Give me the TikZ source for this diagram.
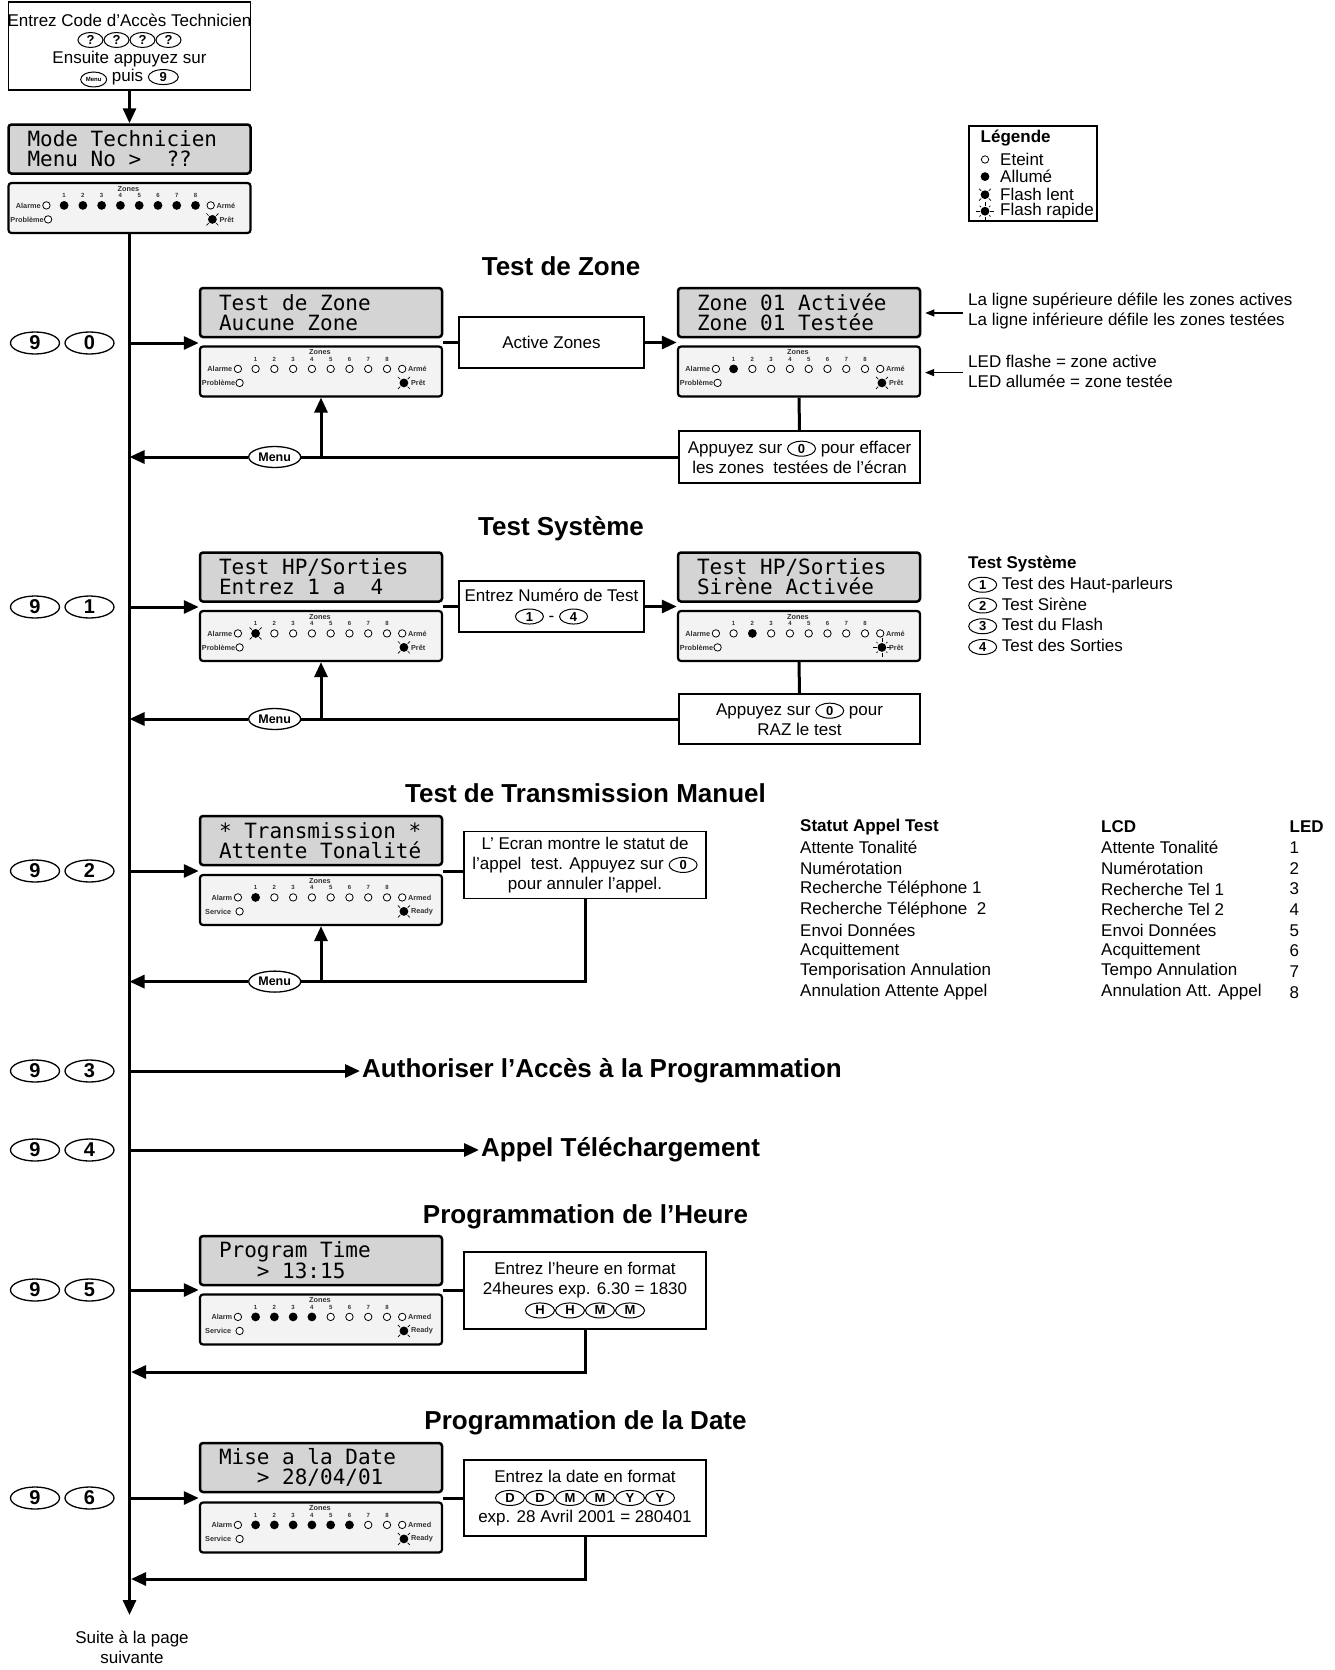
\documentclass[tikz,border=0pt]{standalone}
\usepackage{fontspec}
\setmainfont{Liberation Sans}
\newfontfamily\lcdfam{DejaVu Sans Mono}
\usetikzlibrary{arrows.meta,shapes.geometric}

\definecolor{lcdgris}{RGB}{212,212,212}
\definecolor{ledgris}{RGB}{243,243,243}

\newcommand{\corps}{\fontsize{17}{20}\selectfont}
\newcommand{\titre}{\fontsize{26}{30}\selectfont\bfseries}
\newcommand{\petit}{\fontsize{7.3}{8}\selectfont\bfseries}
\newcommand{\lcdfont}{\lcdfam\fontsize{21}{20}\selectfont}
% espaces de la largeur d'un caractere
\newcommand{\lcdspace}{\spaceskip=\fontcharwd\font`0\relax\xspaceskip=\spaceskip}

% touche dans le texte
\newcommand{\kb}[2][28pt]{\tikz[baseline=(kb.base)]\node[shape=ellipse,draw,fill=white,line width=1pt,inner sep=0pt,minimum width=#1,minimum height=15pt,font=\fontsize{13}{13}\selectfont\bfseries,text=black,anchor=center] (kb) {#2};}

% voyants: o eteint, n allume, s flash lent, f flash rapide
\newcommand{\ledo}[1]{\draw[line width=0.8pt,fill=white] (#1) circle (3.7pt);}
\newcommand{\ledn}[1]{\fill (#1) circle (4.4pt);}
\newcommand{\leds}[1]{\fill (#1) circle (4.4pt);
    \foreach \a in {45,135,225,315} \draw[line width=0.7pt] (#1) ++(\a:5.4pt) -- ++(\a:3pt);}
\newcommand{\ledf}[1]{\fill (#1) circle (4.4pt);
    \foreach \a in {0,90,180,270} \draw[line width=0.7pt] (#1) ++(\a:5.4pt) -- ++(\a:4pt);
    \foreach \a in {45,135,225,315} \draw[line width=0.7pt] (#1) ++(\a:5.9pt) -- ++(\a:1.8pt);}

\newcommand{\setfr}{\def\lA{Alarme}\def\lB{Armé}\def\lC{Problème}\def\lD{Prêt}\def\lCx{37}}
\newcommand{\seten}{\def\lA{Alarm}\def\lB{Armed}\def\lC{Service}\def\lD{Ready}\def\lCx{33}}

% clavier a voyants: nom, centre, zones, voyant pret
\newcommand{\ledpanel}[4]{%
    \node[ledbox] (#1) at (#2) {};
    \begin{scope}[shift={(#1.north west)}]
        \node[ledtxt] (#1-zones) at (121,6.7) {Zones};
        \foreach \s [count=\i] in {#3} {
            \node[ledtxt,font=\fontsize{6}{6}\selectfont\bfseries] (#1-n\i) at ({56.7+18.77*(\i-1)},13.8) {\i};
            \csname led\s\endcsname{{56.7+18.77*(\i-1)},23.5}
        }
        \node[ledtxt,anchor=east] (#1-a) at (34,23.5) {\lA};
        \ledo{39,23.5}
        \ledo{203.3,23.5}
        \node[ledtxt,anchor=west] (#1-b) at (208.5,23.5) {\lB};
        \node[ledtxt,anchor=east] (#1-c) at (\lCx,37.5) {\lC};
        \ledo{40.7,37.5}
        \csname led#4\endcsname{205,37.5}
        \node[ledtxt,anchor=west] (#1-d) at (211.5,37.5) {\lD};
    \end{scope}}

\begin{document}
\begin{tikzpicture}[x=1pt,y=-1pt,
    lcd/.style={draw,line width=2.5pt,rounded corners=3pt,fill=lcdgris,text width=204pt,inner xsep=19pt,minimum height=49pt,align=left,font=\lcdfont,execute at begin node=\lcdspace},
    ledbox/.style={draw,line width=2.2pt,rounded corners=3pt,fill=ledgris,minimum width=242pt,minimum height=50pt,inner sep=0pt},
    ledtxt/.style={font=\petit,inner sep=0.5pt,text=black!80},
    boite/.style={draw,line width=1.2pt,fill=white,align=center,font=\corps,inner sep=2pt},
    txt/.style={font=\corps,anchor=west,inner sep=1pt},
    titre/.style={font=\titre,inner sep=2pt},
    bigkey/.style={shape=ellipse,draw,line width=1.3pt,minimum width=49pt,minimum height=22pt,inner sep=0pt,font=\fontsize{20}{20}\selectfont\bfseries},
    menukey/.style={shape=ellipse,draw,fill=white,line width=1.3pt,minimum width=52pt,minimum height=21pt,inner sep=0pt,font=\fontsize{12.5}{12.5}\selectfont\bfseries},
    trait/.style={line width=3pt},
    arr/.style={line width=3pt,-{Triangle[length=15pt,width=13pt]}},
    fleche/.style={line width=1.2pt,-{Triangle[length=9pt,width=7pt]}}]
    \useasboundingbox (0,0) rectangle (1334,1670);
    \setfr

    % acces au mode technicien
    \node[boite,minimum width=242pt,minimum height=88pt] (depart) at (129.5,46) {};
    \node[font=\fontsize{17}{18.5}\selectfont,align=center,inner sep=0pt] (departtxt) at (129.5,50.5) {Entrez Code d’Accès Technicien\\\kb[25pt]{?}\kb[25pt]{?}\kb[25pt]{?}\kb[25pt]{?}\\Ensuite appuyez sur\\\kb[26pt]{\fontsize{6}{6}\selectfont Menu} puis \kb[30pt]{9}};
    \node[lcd] (lcdM) at (129.5,149) {Mode Technicien\\Menu No >~~??};
    \ledpanel{ledM}{129.5,208}{n,n,n,n,n,n,n,n}{s}
    \draw[arr] (depart.south) -- (lcdM.north);

    % legende
    \node[boite,minimum width=128pt,minimum height=95pt] (legende) at (1033,173.5) {};
    \node[txt] (leg0) at (979.5,138) {\bfseries Légende};
    \ledo{985,159.5}
    \node[txt] (leg1) at (999,159.5) {Eteint};
    \ledn{985,176.6}
    \node[txt] (leg2) at (999,176.6) {Allumé};
    \leds{985,194.7}
    \node[txt] (leg3) at (999,194.7) {Flash lent};
    \ledf{985,211.2}
    \node[txt] (leg4) at (999,211.2) {Flash rapide};

    % ligne principale et touches
    \coordinate (suite) at (129.5,1615);
    \draw[arr] (ledM.south) -- (suite);
    \node[font=\corps,align=center,inner sep=0pt] (suitetxt) at (132,1647) {Suite à la page\\suivante};
    \foreach \d/\y in {0/343,1/607,2/871,3/1071,4/1150,5/1290,6/1498} {
        \node[bigkey] (neuf\d) at (35,\y) {9};
        \node[bigkey] (key\d) at (89.5,\y) {\d};
    }

    % 9 0 : test de zone
    \node[titre] (t0) at (561,266) {Test de Zone};
    \node[lcd] (lcdZ) at (321,312.5) {Test de Zone\\Aucune Zone};
    \ledpanel{ledZ}{321,371.5}{o,o,o,o,o,o,o,o}{s}
    \node[boite,minimum width=185pt,minimum height=51pt] (actz) at (551.5,342.5) {Active Zones};
    \node[lcd] (lcdZb) at (799,312.5) {Zone 01 Activée\\Zone 01 Testée};
    \ledpanel{ledZb}{799,371.5}{n,o,o,o,o,o,o,o}{s}
    \node[boite,minimum width=241pt,minimum height=52pt] (effZ) at (799.5,457) {Appuyez sur \kb{0} pour effacer\\les zones~ testées de l’écran};
    \node[menukey] (menu0) at (274.7,457) {Menu};
    \draw[arr] (ledM.south |- key0) -- (lcdZ.west |- key0);
    \draw[trait] (lcdZ.east |- actz) -- (actz.west);
    \draw[arr] (actz.east) -- (lcdZb.west |- actz);
    \draw[trait] (ledZb.south) -- (effZ.north);
    \draw[trait] (effZ.west) -- (menu0.east);
    \draw[arr] (menu0.west) -- (ledM.south |- menu0);
    \draw[arr] (ledZ.south |- menu0) -- (ledZ.south);
    \node[txt] (nZ1) at (967,301) {La ligne supérieure défile les zones actives};
    \node[txt] (nZ2) at (967,321.5) {La ligne inférieure défile les zones testées};
    \node[txt] (nZ3) at (967,361) {LED flashe = zone active};
    \node[txt] (nZ4) at (967,381) {LED allumée = zone testée};
    \coordinate (fZ1) at (963,313);
    \coordinate (fZ2) at (963,372.6);
    \draw[fleche,shorten >=4pt] (fZ1) -- (fZ1 -| lcdZb.east);
    \draw[fleche,shorten >=4pt] (fZ2) -- (fZ2 -| ledZb.east);

    % 9 1 : test systeme
    \node[titre] (t1) at (561,529) {Test Système};
    \node[lcd] (lcdS) at (321,577) {Test HP/Sorties\\Entrez 1 a~~4};
    \ledpanel{ledS}{321,636}{s,o,o,o,o,o,o,o}{s}
    \node[boite,minimum width=185pt,minimum height=51pt] (numt) at (551.5,606.5) {Entrez Numéro de Test\\\kb{1} - \kb{4}};
    \node[lcd] (lcdSb) at (799,577) {Test HP/Sorties\\Sirène Activée};
    \ledpanel{ledSb}{799,636}{o,n,o,o,o,o,o,o}{f}
    \node[boite,minimum width=241pt,minimum height=50pt] (razS) at (799.5,719) {Appuyez sur \kb{0} pour\\RAZ le test};
    \node[menukey] (menu1) at (274.7,719) {Menu};
    \draw[arr] (ledM.south |- key1) -- (lcdS.west |- key1);
    \draw[trait] (lcdS.east |- numt) -- (numt.west);
    \draw[arr] (numt.east) -- (lcdSb.west |- numt);
    \draw[trait] (ledSb.south) -- (razS.north);
    \draw[trait] (razS.west) -- (menu1.east);
    \draw[arr] (menu1.west) -- (ledM.south |- menu1);
    \draw[arr] (ledS.south |- menu1) -- (ledS.south);
    \node[txt] (ts0) at (967,564) {\bfseries Test Système};
    \foreach \d/\t in {1/Test des Haut-parleurs,2/Test Sirène,3/Test du Flash,4/Test des Sorties}
        \node[txt] (ts\d) at (967,{564+20.75*\d}) {\kb{\d} \t};

    % 9 2 : test de transmission
    \seten
    \node[titre] (t2) at (585.5,793) {Test de Transmission Manuel};
    \node[lcd] (lcdT) at (321,840.5) {* Transmission *\\Attente Tonalité};
    \ledpanel{ledT}{321,900}{n,o,o,o,o,o,o,o}{s}
    \node[boite,minimum width=242pt,minimum height=67.5pt] (stat) at (585,865) {L’ Ecran montre le statut de\\l’appel~ test. Appuyez sur \kb{0}\\pour annuler l’appel.};
    \node[menukey] (menu2) at (274.7,981.6) {Menu};
    \draw[arr] (ledM.south |- key2) -- (lcdT.west |- key2);
    \draw[trait] (lcdT.east |- key2) -- (stat.west |- key2);
    \draw[trait] (stat.south) |- (menu2.east);
    \draw[arr] (menu2.west) -- (ledM.south |- menu2);
    \draw[arr] (ledT.south |- menu2) -- (ledT.south);
    \node[txt] (h1) at (799,827) {\bfseries Statut Appel Test};
    \node[txt] (h2) at (1100,827) {\bfseries LCD};
    \node[txt] (h3) at (1288.5,827) {\bfseries LED};
    \foreach \a/\b [count=\i] in {Attente Tonalité/Attente Tonalité,Numérotation/Numérotation,
        Recherche Téléphone 1/Recherche Tel 1,Recherche Téléphone~ 2/Recherche Tel 2,
        Envoi Données/Envoi Données,Acquittement/Acquittement,
        Temporisation Annulation/Tempo Annulation,Annulation Attente Appel/Annulation Att. Appel} {
        \node[txt] (st\i) at (799,{827+20.65*\i}) {\a};
        \node[txt] (lc\i) at (1100,{827+20.65*\i}) {\b};
        \node[txt] (le\i) at (1288.5,{827+20.65*\i}) {\i};
    }

    % 9 3 et 9 4
    \node[titre,anchor=west] (acces) at (360,1071) {Authoriser l’Accès à la Programmation};
    \draw[arr] (ledM.south |- key3) -- (acces.west);
    \node[titre,anchor=west] (appel) at (479,1150) {Appel Téléchargement};
    \draw[arr] (ledM.south |- key4) -- (appel.west);

    % 9 5 : heure
    \node[titre] (t5) at (585.5,1217) {Programmation de l’Heure};
    \node[lcd] (lcdH) at (321,1260.5) {Program Time\\\phantom{000}> 13:15};
    \ledpanel{ledH}{321,1319.5}{n,n,n,n,o,o,o,o}{s}
    \node[boite,minimum width=242pt,minimum height=77pt] (heure) at (585,1290.5) {Entrez l’heure en format\\24heures exp. 6.30 = 1830\\\kb[29pt]{H}\kb[29pt]{H}\kb[29pt]{M}\kb[29pt]{M}};
    \coordinate (ret5) at (131,1372);
    \draw[arr] (ledM.south |- key5) -- (lcdH.west |- key5);
    \draw[trait] (lcdH.east |- key5) -- (heure.west |- key5);
    \draw[arr] (heure.south) |- (ret5);

    % 9 6 : date
    \node[titre] (t6) at (585.5,1423) {Programmation de la Date};
    \node[lcd] (lcdD) at (321,1467.5) {Mise a la Date\\\phantom{000}> 28/04/01};
    \ledpanel{ledD}{321,1527.5}{n,n,n,n,n,n,o,o}{s}
    \node[boite,minimum width=242pt,minimum height=76pt] (date) at (585,1498) {Entrez la date en format\\\kb[29pt]{D}\kb[29pt]{D}\kb[29pt]{M}\kb[29pt]{M}\kb[29pt]{Y}\kb[29pt]{Y}\\exp. 28 Avril 2001 = 280401};
    \coordinate (ret6) at (131,1579);
    \draw[arr] (ledM.south |- key6) -- (lcdD.west |- key6);
    \draw[trait] (lcdD.east |- key6) -- (date.west |- key6);
    \draw[arr] (date.south) |- (ret6);
\end{tikzpicture}
\end{document}
